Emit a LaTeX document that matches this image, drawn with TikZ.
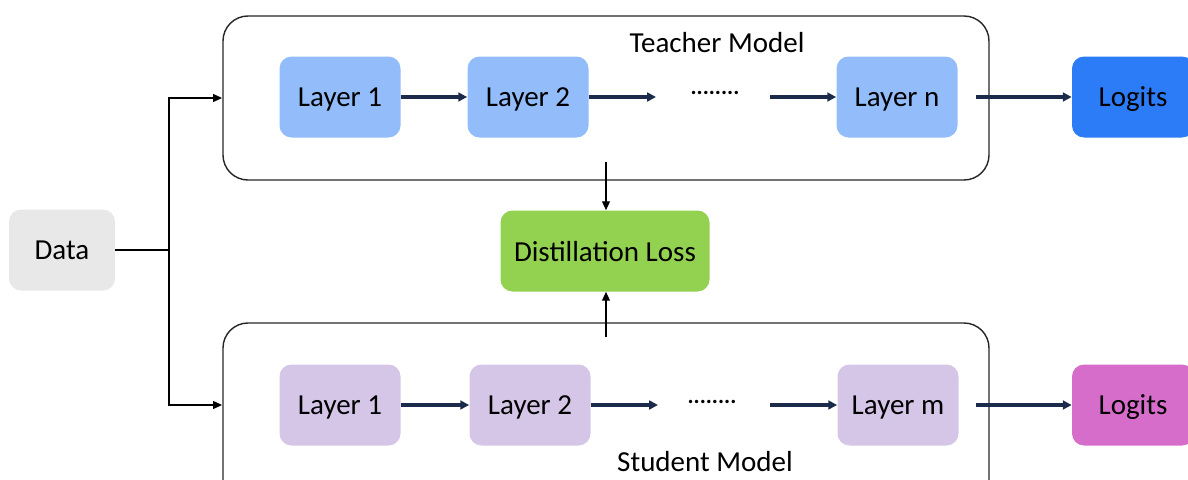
\documentclass[tikz,border=0pt]{standalone}
\usepackage{fontspec}
\setmainfont{Carlito}
\usetikzlibrary{arrows.meta}
\definecolor{tlayer}{HTML}{93BDFA}
\definecolor{tlogit}{HTML}{2B7CF6}
\definecolor{slayer}{HTML}{D5C6E8}
\definecolor{slogit}{HTML}{D66DCA}
\definecolor{dloss}{HTML}{93D150}
\definecolor{dbox}{HTML}{E8E8E8}
\definecolor{navy}{HTML}{1C2B4C}
\tikzset{
  blk/.style={rounded corners=0.24cm, minimum width=121*0.02cm, minimum height=81*0.02cm, inner sep=0pt, text depth=0pt, font=\fontsize{16.5}{18}\selectfont, text=black},
  frame/.style={draw=black!85, line width=0.8pt, rounded corners=0.5cm},
  thin/.style={draw=black, line width=0.6pt, -{Triangle[length=5pt,width=4.5pt]}},
  flow/.style={draw=navy, line width=1.8pt, -{Triangle[length=5pt,width=5pt]}},
  lbl/.style={font=\fontsize{16.5}{18}\selectfont, inner sep=0pt},
  dots/.style={font=\fontsize{13}{14}\selectfont\bfseries, inner sep=0pt}
}
\begin{document}
\begin{tikzpicture}[x=0.02cm,y=-0.02cm]
\useasboundingbox (0,0) rectangle (1188,480);
\clip (0,0) rectangle (1188,480);
% frames
\draw[frame] (223,16) rectangle (989,180);
\draw[frame] (223,323) rectangle (989,520);
\node[lbl] (tlabel) at (717,43) {Teacher Model};
\node[lbl] (slabel) at (705,462) {Student Model};
% nodes
\node[blk, fill=dbox, minimum width=106*0.02cm] (data) at (62,250) {Data};
\node[blk, fill=tlayer] (t1) at (340,97) {Layer 1};
\node[blk, fill=tlayer] (t2) at (528,97) {Layer 2};
\node[dots] (tdots) at (715,93) {........};
\node[blk, fill=tlayer] (tn) at (897,97) {Layer n};
\node[blk, fill=tlogit, minimum width=122*0.02cm] (tlog) at (1133,97) {Logits};
\node[blk, fill=slayer] (s1) at (340,405) {Layer 1};
\node[blk, fill=slayer] (s2) at (530,405) {Layer 2};
\node[dots] (sdots) at (712,402) {........};
\node[blk, fill=slayer] (sm) at (898,405) {Layer m};
\node[blk, fill=slogit, minimum width=122*0.02cm] (slog) at (1133,405) {Logits};
\node[blk, fill=dloss, minimum width=209*0.02cm] (loss) at (605,251) {Distillation Loss};
% coordinates
\coordinate (j) at (169,250);
\coordinate (tin) at (222,98);
\coordinate (sin) at (222,405);
\coordinate (tout) at (606,162);
\coordinate (sout) at (606,337);
\coordinate (t2e) at (656,97);
\coordinate (tde) at (770,97);
\coordinate (s2e) at (658,405);
\coordinate (sde) at (770,405);
\coordinate (tne) at (976,97);
\coordinate (sme) at (976,405);
% data connectors
\draw[line width=0.6pt] (data.east) -- (j);
\draw[thin] (j) |- (tin);
\draw[thin] (j) |- (sin);
\draw[thin] (tout) -- (loss.north -| tout);
\draw[thin] (sout) -- (loss.south -| sout);
% flows
\draw[flow] (t1) -- (t2);
\draw[flow] (t2) -- (t2e);
\draw[flow] (tde) -- (tn);
\draw[flow] (tne) -- (tlog);
\draw[flow] (s1) -- (s2);
\draw[flow] (s2) -- (s2e);
\draw[flow] (sde) -- (sm);
\draw[flow] (sme) -- (slog);
\end{tikzpicture}
\end{document}
